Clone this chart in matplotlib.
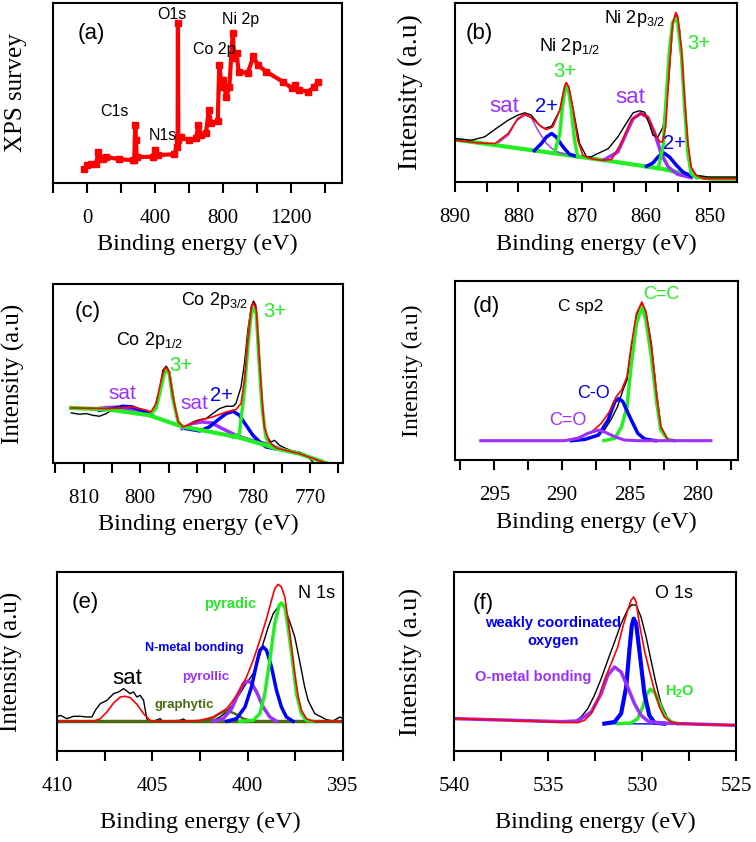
import numpy as np
import matplotlib
matplotlib.use("Agg")
import matplotlib.pyplot as plt
from matplotlib.ticker import MultipleLocator

plt.rcParams['font.family'] = ['Liberation Sans', 'DejaVu Sans']
plt.rcParams['mathtext.default'] = 'regular'

RED = '#ff0000'
GREEN = '#22ee22'
BLUE = '#0000ff'
PURPLE = '#9b30ff'
OLIVE = '#4b6a10'

# ---------------- (a) survey ----------------
a_ev = [-16, 0, 24, 53, 67, 73, 92, 112, 190, 269, 278, 284, 288, 292, 386, 400, 416, 514, 527, 533, 535, 537,
        553, 602, 641, 655, 671, 700, 716, 730, 769, 778, 788, 794, 802, 818, 837, 857, 867, 880, 892, 945,
        979, 1004, 1053, 1151, 1206, 1225, 1249, 1298, 1337, 1357]
a_int = [43, 53, 58, 56, 93, 76, 73, 78, 71, 68, 70, 173, 128, 78, 78, 100, 83, 86, 108, 128, 478, 138,
         136, 128, 133, 173, 143, 148, 218, 178, 186, 353, 308, 288, 308, 258, 286, 448, 373, 388, 333, 328,
         378, 353, 333, 303, 283, 293, 278, 273, 286, 303]

# ---------------- (b) Ni 2p ----------------
b_base_ev = [890.0, 875.9, 865.4, 857.6, 851.8, 849.7, 845.8]
b_base = [127, 90, 62, 40, 15, 10, 10]
b_raw_ev = [890.0, 887.4, 885.3, 883.5, 881.6, 880.1, 879.0, 878.0, 876.7, 875.9, 874.8, 873.5, 872.8, 872.5,
            872.0, 871.2, 870.4, 869.3, 868.6, 867.8, 867.0, 865.9, 864.4, 863.1, 862.0, 861.0, 860.2, 859.4,
            858.9, 858.1, 857.3, 856.5, 855.8, 855.3, 854.7, 854.2, 853.5, 852.9, 852.1, 850.3, 845.8]
b_raw = [130, 125, 135, 160, 185, 200, 207, 200, 170, 160, 167, 215, 283, 297, 275, 195, 115, 75, 75, 83, 90,
         100, 135, 175, 207, 213, 209, 170, 140, 135, 165, 285, 465, 500, 455, 295, 125, 40, 20, 15, 15]
b_fit_ev = [890.0, 886.3, 883.7, 881.6, 880.1, 879.0, 878.0, 876.4, 875.6, 874.6, 873.5, 872.8, 872.5, 872.1,
            871.4, 870.7, 869.9, 868.6, 867.0, 865.4, 863.9, 862.3, 860.8, 859.7, 858.6, 857.8, 857.4, 856.9,
            856.3, 855.8, 855.3, 855.0, 854.4, 853.9, 853.4, 852.9, 852.1, 851.0, 845.8]
b_fit = [125, 117, 115, 145, 190, 203, 193, 165, 157, 165, 215, 280, 297, 285, 215, 125, 80, 70, 65, 67, 115,
         185, 205, 195, 145, 120, 120, 165, 345, 475, 507, 495, 395, 245, 115, 45, 20, 10, 10]
b_g1_ev = [874.3, 873.5, 873.1, 872.7, 872.5, 872.1, 871.7, 871.2, 870.7]
b_g1 = [90, 145, 225, 275, 283, 270, 215, 125, 76]
b_g2_ev = [858.1, 857.3, 856.8, 856.3, 855.8, 855.3, 855.0, 854.4, 853.9, 853.4, 852.9, 852.1]
b_g2 = [40, 105, 255, 395, 477, 490, 475, 375, 215, 85, 25, 13]
b_b1_ev = [877.5, 876.4, 875.6, 874.8, 874.1, 873.0, 872.0, 870.9]
b_b1 = [94, 115, 135, 145, 135, 105, 83, 77]
b_b2_ev = [859.9, 858.9, 858.0, 857.2, 856.3, 855.2, 854.2, 852.9]
b_b2 = [47, 57, 77, 87, 75, 50, 30, 18]
b_p1_ev = [883.2, 881.6, 880.3, 879.0, 878.0, 876.9, 875.6, 874.3, 872.7]
b_p1 = [117, 140, 183, 200, 193, 153, 115, 93, 83]
b_p2_ev = [866.5, 864.4, 863.1, 862.0, 860.8, 859.7, 858.6, 857.6, 856.5, 855.0, 852.9]
b_p2 = [67, 90, 145, 190, 205, 193, 145, 85, 45, 23, 13]

# ---------------- (c) Co 2p ----------------
c_raw_ev = [812.2, 810.7, 809.5, 808.4, 807.2, 806.0, 805.1, 803.6, 802.2, 800.7, 798.9, 798.4, 797.5, 796.6,
            796.0, 795.4, 794.8, 794.2, 793.6, 792.8, 791.9, 790.7, 789.5, 788.4, 787.2, 786.0, 784.8, 783.6,
            783.1, 782.2, 781.6, 781.0, 780.4, 780.0, 779.6, 779.2, 778.8, 778.4, 777.8, 776.9, 776.3, 775.4,
            774.2, 773.1, 771.9, 771.0, 770.1, 769.5]
c_raw = [150, 146, 148, 143, 140, 148, 158, 163, 165, 160, 150, 150, 163, 218, 278, 290, 273, 208, 138, 113,
         108, 123, 130, 133, 148, 163, 170, 170, 178, 228, 298, 398, 468, 485, 473, 398, 268, 148, 83, 63, 68,
         53, 43, 36, 33, 26, 13, 3]
c_base_ev = [812.2, 805.5, 798.4, 792.8, 786.6, 782.5, 777.8, 776.0, 771.9, 767.2]
c_base = [165, 160, 143, 110, 90, 76, 53, 43, 28, 0]
c_fit_ev = [812.2, 805.5, 801.4, 798.9, 798.1, 797.2, 796.3, 795.7, 795.4, 794.9, 794.2, 793.3, 792.4, 791.2,
            789.5, 787.2, 784.8, 783.1, 782.2, 781.6, 781.0, 780.4, 780.0, 779.5, 779.1, 778.6, 778.1, 777.2,
            776.0, 771.9, 767.2]
c_fit = [165, 163, 168, 158, 153, 178, 248, 283, 286, 273, 198, 123, 108, 116, 128, 138, 153, 160, 178, 248,
         368, 463, 480, 458, 348, 218, 108, 63, 45, 28, 0]
c_g1_ev = [798.4, 797.2, 796.3, 795.7, 795.4, 794.9, 794.2, 793.3, 792.5]
c_g1 = [143, 163, 228, 273, 280, 268, 188, 123, 108]
c_g2_ev = [783.6, 782.5, 781.6, 781.0, 780.4, 780.0, 779.5, 779.1, 778.5, 777.8, 776.9, 776.0]
c_g2 = [78, 88, 218, 348, 448, 463, 448, 328, 168, 78, 48, 43]
c_b1_ev = [807.2, 804.8, 803.1, 801.4, 799.6, 797.9]
c_b1 = [158, 163, 170, 168, 156, 143]
c_b2_ev = [791.9, 789.5, 787.8, 786.0, 784.8, 783.6, 782.5, 781.3, 780.1, 778.9, 777.8, 776.3]
c_b2 = [103, 96, 108, 133, 148, 155, 143, 113, 83, 63, 48, 43]
c_p1_ev = [808.4, 806.0, 804.2, 802.5, 800.1]
c_p1 = [161, 166, 167, 163, 153]
c_p2_ev = [792.6, 790.9, 789.1, 787.4, 785.5, 783.1, 780.8, 777.8, 775.4]
c_p2 = [103, 118, 123, 120, 103, 83, 70, 58, 43]

# ---------------- (d) C 1s ----------------
d_raw_ev = [289.1, 288.3, 287.6, 286.9, 286.4, 285.9, 285.5, 285.2, 284.9, 284.5, 284.1, 283.8, 283.4, 283.0,
            282.7, 282.2]
d_raw = [58, 62, 72, 88, 120, 160, 210, 240, 330, 435, 472, 445, 350, 200, 100, 62]
d_fit_ev = [296.0, 289.8, 288.8, 287.8, 287.1, 286.5, 286.0, 285.6, 285.2, 284.9, 284.5, 284.1, 283.8, 283.4,
            283.0, 282.7, 282.2, 281.7, 279.0]
d_fit = [58, 58, 68, 85, 110, 145, 190, 210, 250, 340, 440, 475, 445, 340, 190, 100, 62, 58, 58]
d_cc_ev = [286.9, 286.1, 285.6, 285.2, 284.9, 284.5, 284.1, 283.8, 283.4, 283.0, 282.7, 282.2, 281.7]
d_cc = [58, 65, 100, 160, 280, 410, 460, 420, 310, 170, 90, 62, 58]
d_co_ev = [289.3, 288.3, 287.3, 286.6, 286.1, 285.8, 285.5, 285.0, 284.4, 283.9, 283.1]
d_co = [58, 62, 75, 120, 175, 185, 175, 130, 80, 63, 58]
d_c_o_ev = [296.0, 289.8, 288.8, 288.1, 287.3, 286.9, 286.1, 285.4, 284.4, 279.0]
d_c_o = [58, 58, 65, 80, 90, 85, 70, 60, 58, 58]

# ---------------- (e) N 1s ----------------
e_raw_ev = [410.0, 409.83, 409.48, 409.13, 408.78, 408.43, 408.17, 407.99, 407.73, 407.38, 407.03, 406.77,
            406.51, 406.34, 406.16, 405.99, 405.81, 405.64, 405.46, 405.29, 405.12, 404.94, 404.59, 404.42,
            404.24, 403.55, 403.37, 403.20, 402.50, 401.80, 401.45, 401.10, 400.76, 400.41, 400.14, 399.97,
            399.71, 399.45, 399.19, 398.92, 398.66, 398.40, 398.23, 398.05, 397.88, 397.70, 397.53, 397.35,
            397.18, 397.01, 396.83, 396.66, 396.48, 396.31, 396.13, 395.87, 395.52, 395.17, 395.00]
e_raw = [102, 107, 97, 104, 104, 102, 102, 122, 142, 152, 172, 177, 187, 180, 172, 177, 162, 167, 152, 97,
         87, 89, 97, 87, 89, 92, 96, 89, 90, 92, 102, 117, 142, 172, 197, 210, 232, 272, 322, 372, 412, 432,
         444, 427, 402, 372, 342, 292, 242, 192, 152, 132, 112, 107, 102, 94, 90, 102, 97]
e_fit_ev = [410.0, 408.08, 407.73, 407.38, 407.03, 406.68, 406.42, 406.16, 405.81, 405.46, 405.12, 404.94,
            403.20, 402.50, 401.80, 401.10, 400.76, 400.41, 400.06, 399.71, 399.36, 399.01, 398.75, 398.58,
            398.40, 398.23, 398.05, 397.88, 397.70, 397.53, 397.35, 397.18, 396.92, 396.57, 395.0]
e_fit = [89, 89, 97, 117, 144, 162, 164, 160, 140, 112, 92, 89, 89, 92, 102, 127, 152, 182, 222, 272, 332,
         397, 452, 487, 500, 492, 462, 392, 312, 232, 162, 122, 97, 89, 89]
e_base_ev = [410.0, 395.0]
e_base = [89, 89]
e_pyr_ev = [400.41, 399.71, 399.36, 399.10, 398.84, 398.58, 398.35, 398.23, 398.05, 397.88, 397.65, 397.44,
            397.18, 396.92, 396.57]
e_pyr = [89, 92, 112, 172, 272, 382, 437, 444, 432, 372, 272, 172, 112, 92, 89]
e_nm_ev = [401.10, 400.58, 400.14, 399.80, 399.53, 399.36, 399.19, 399.01, 398.75, 398.49, 398.23, 397.97,
           397.62]
e_nm = [89, 97, 132, 192, 262, 302, 312, 302, 252, 182, 132, 102, 89]
e_pyl_ev = [401.80, 401.28, 400.84, 400.49, 400.23, 400.00, 399.80, 399.53, 399.19, 398.84, 398.49]
e_pyl = [89, 97, 127, 172, 202, 210, 204, 177, 132, 102, 89]
e_gr_ev = [402.50, 401.98, 401.54, 401.10, 400.67, 400.23, 399.71]
e_gr = [89, 94, 110, 122, 112, 97, 89]

# ---------------- (f) O 1s ----------------
f_raw_ev = [540.0, 534.30, 533.59, 533.24, 532.88, 532.53, 532.17, 531.82, 531.46, 531.11, 530.76, 530.54,
            530.31, 530.05, 529.78, 529.52, 529.25, 528.99, 528.63, 528.28, 525.0]
f_raw = [97, 87, 88, 102, 127, 167, 217, 272, 327, 382, 424, 439, 437, 402, 342, 272, 202, 142, 97, 84, 77]
f_fit_ev = [540.0, 536.95, 534.30, 533.41, 533.06, 532.70, 532.35, 532.00, 531.64, 531.29, 531.02, 530.76,
            530.58, 530.44, 530.31, 530.14, 529.87, 529.61, 529.34, 529.07, 528.81, 528.45, 528.10, 525.0]
f_fit = [97, 92, 86, 85, 92, 112, 152, 212, 262, 312, 372, 422, 452, 462, 447, 382, 302, 242, 182, 132, 102,
         87, 82, 77]
f_weak_ev = [532.00, 531.46, 531.11, 530.84, 530.67, 530.54, 530.44, 530.31, 530.14, 529.87, 529.61, 529.34,
             528.81]
f_weak = [82, 87, 112, 192, 302, 377, 397, 382, 302, 172, 107, 85, 82]
f_om_ev = [540.0, 534.30, 533.41, 532.70, 532.17, 531.82, 531.46, 531.11, 530.76, 530.40, 530.05, 529.69,
           529.16, 525.0]
f_om = [97, 88, 90, 117, 172, 227, 252, 237, 192, 142, 107, 90, 84, 77]
f_h2o_ev = [531.29, 530.58, 530.23, 529.96, 529.73, 529.55, 529.34, 529.07, 528.81, 528.45, 528.10]
f_h2o = [82, 84, 97, 132, 172, 185, 177, 142, 107, 87, 82]
f_base_ev = [531.8, 526.8]
f_base = [82, 80]


fig = plt.figure(figsize=(7.56, 8.42), dpi=100)


def style(ax, xlim, ylim, major, minor, ylabel, ylab_x, xlab_y, ysize=18):
    ax.set_xlim(*xlim)
    ax.set_ylim(*ylim)
    ax.set_yticks([])
    ax.xaxis.set_major_locator(MultipleLocator(major))
    ax.xaxis.set_minor_locator(MultipleLocator(minor))
    ax.tick_params(axis='x', which='both', direction='out', length=7, width=1.5, pad=12,
                   labelsize=15, top=False)
    for lab in ax.get_xticklabels():
        lab.set_family('Liberation Serif')
    for s in ax.spines.values():
        s.set_linewidth(1.5)
    ax.set_xlabel("Binding energy (eV)", family='Liberation Serif', fontsize=17.5)
    ax.set_ylabel(ylabel, family='Liberation Serif', fontsize=ysize)
    ax.yaxis.set_label_coords(ylab_x, 0.5)
    ax.xaxis.set_label_coords(0.5, xlab_y)


# (a)
ax = fig.add_axes([0.0701, 0.7827, 0.3823, 0.2138])
ax.plot(a_ev, a_int, '-s', color=RED, lw=3, ms=4)
style(ax, (-200, 1500), (0, 538), 400, 200, "XPS survey", -0.09, -0.283)
ax.text(24, 448, "(a)", fontsize=16, ha='center', va='center')
ax.text(161, 213, "C1s", fontsize=11.5, ha='center', va='center')
ax.text(445, 143, "N1s", fontsize=11.5, ha='center', va='center')
ax.text(500, 503, "O1s", fontsize=11.5, ha='center', va='center')
ax.text(749, 398, "Co 2p", fontsize=11.5, ha='center', va='center')
ax.text(906, 490, "Ni 2p", fontsize=11.5, ha='center', va='center')

# (b)
ax = fig.add_axes([0.6015, 0.7838, 0.3734, 0.2126])
ax.plot(b_base_ev, b_base, color=GREEN, lw=3)
ax.plot(b_p1_ev, b_p1, color=PURPLE, lw=1)
ax.plot(b_p2_ev, b_p2, color=PURPLE, lw=2.5)
ax.plot(b_b1_ev, b_b1, color=BLUE, lw=2.5)
ax.plot(b_b2_ev, b_b2, color=BLUE, lw=2.5)
ax.plot(b_raw_ev, b_raw, color='black', lw=1)
ax.plot(b_g1_ev, b_g1, color=GREEN, lw=2.5)
ax.plot(b_g2_ev, b_g2, color=GREEN, lw=2.5)
ax.plot(b_fit_ev, b_fit, color=RED, lw=1.2)
style(ax, (890, 845.7), (0, 535), 10, 5, "Intensity (a.u)", -0.112, -0.29, ysize=20)
ax.text(886.1, 445, "(b)", fontsize=16, ha='center', va='center')
ax.text(872.0, 405, "Ni 2p$_{1/2}$", fontsize=13, ha='center', va='center')
ax.text(872.7, 330, "3+", fontsize=14.5, color=GREEN, ha='center', va='center')
ax.text(882.2, 227, "sat", fontsize=16, color=PURPLE, ha='center', va='center')
ax.text(875.6, 225, "2+", fontsize=14.5, color=BLUE, ha='center', va='center')
ax.text(862.5, 253, "sat", fontsize=16, color=PURPLE, ha='center', va='center')
ax.text(855.5, 115, "2+", fontsize=14.5, color=BLUE, ha='center', va='center')
ax.text(861.8, 490, "Ni 2p$_{3/2}$", fontsize=13, ha='center', va='center')
ax.text(851.7, 415, "3+", fontsize=14.5, color=GREEN, ha='center', va='center')

# (c)
ax = fig.add_axes([0.0701, 0.4501, 0.3836, 0.2126])
ax.plot(c_raw_ev, c_raw, color='black', lw=1)
ax.plot(c_p1_ev, c_p1, color=PURPLE, lw=2.5)
ax.plot(c_p2_ev, c_p2, color=PURPLE, lw=2.5)
ax.plot(c_b1_ev, c_b1, color=BLUE, lw=2.5)
ax.plot(c_b2_ev, c_b2, color=BLUE, lw=2.5)
ax.plot(c_base_ev, c_base, color=GREEN, lw=3)
ax.plot(c_g1_ev, c_g1, color=GREEN, lw=2.5)
ax.plot(c_g2_ev, c_g2, color=GREEN, lw=2.5)
ax.plot(c_fit_ev, c_fit, color=RED, lw=1.2)
style(ax, (815.4, 764.2), (0, 536), 10, 5, "Intensity (a.u)", -0.097, -0.285)
ax.text(809.2, 453, "(c)", fontsize=16, ha='center', va='center')
ax.text(786.9, 486, "Co 2p$_{3/2}$", fontsize=13, ha='center', va='center')
ax.text(776.3, 453, "3+", fontsize=14.5, color=GREEN, ha='center', va='center')
ax.text(798.4, 368, "Co 2p$_{1/2}$", fontsize=13, ha='center', va='center')
ax.text(792.8, 293, "3+", fontsize=14.5, color=GREEN, ha='center', va='center')
ax.text(803.1, 208, "sat", fontsize=15, color=PURPLE, ha='center', va='center')
ax.text(790.4, 178, "sat", fontsize=15, color=PURPLE, ha='center', va='center')
ax.text(785.7, 203, "2+", fontsize=14.5, color=BLUE, ha='center', va='center')

# (d)
ax = fig.add_axes([0.6019, 0.4537, 0.3743, 0.2126])
ax.plot(d_raw_ev, d_raw, color='black', lw=1)
ax.plot(d_cc_ev, d_cc, color=GREEN, lw=2.5)
ax.plot(d_co_ev, d_co, color=BLUE, lw=2.5)
ax.plot(d_fit_ev, d_fit, color=RED, lw=1.2)
ax.plot(d_c_o_ev, d_c_o, color=PURPLE, lw=2.2)
style(ax, (297.9, 277.0), (0, 538), 5, 2.5, "Intensity (a.u)", -0.113, -0.292, ysize=17)
ax.text(295.6, 460, "(d)", fontsize=16, ha='center', va='center')
ax.text(288.6, 460, "C sp2", fontsize=12.5, ha='center', va='center')
ax.text(282.7, 498, "C=C", fontsize=13, color=GREEN, ha='center', va='center')
ax.text(287.7, 200, "C-O", fontsize=13, color=BLUE, ha='center', va='center')
ax.text(289.6, 120, "C=O", fontsize=13, color=PURPLE, ha='center', va='center')

# (e)
ax = fig.add_axes([0.0754, 0.1081, 0.3783, 0.2126])
ax.plot(e_raw_ev, e_raw, color='black', lw=1)
ax.plot(e_base_ev, e_base, color=OLIVE, lw=2.5)
ax.plot(e_gr_ev, e_gr, color=OLIVE, lw=1.8)
ax.plot(e_pyl_ev, e_pyl, color=PURPLE, lw=2.5)
ax.plot(e_nm_ev, e_nm, color=BLUE, lw=2.5)
ax.plot(e_pyr_ev, e_pyr, color=GREEN, lw=2.5)
ax.plot(e_fit_ev, e_fit, color=RED, lw=1.2)
style(ax, (410, 395), (0, 537), 5, 2.5, "Intensity (a.u)", -0.119, -0.341)
ax.text(408.5, 444, "(e)", fontsize=16, ha='center', va='center')
ax.text(396.4, 472, "N 1s", fontsize=13, ha='center', va='center')
ax.text(400.9, 442, "pyradic", fontsize=10.5, color=GREEN, weight='bold', ha='center', va='center')
ax.text(402.8, 310, "N-metal bonding", fontsize=9, color=BLUE, weight='bold', ha='center', va='center')
ax.text(402.2, 222, "pyrollic", fontsize=9.5, color=PURPLE, weight='bold', ha='center', va='center')
ax.text(403.3, 137, "graphytic", fontsize=9.5, color=OLIVE, weight='bold', ha='center', va='center')
ax.text(406.3, 217, "sat", fontsize=16, ha='center', va='center')

# (f)
ax = fig.add_axes([0.6005, 0.1081, 0.3730, 0.2126])
ax.plot(f_raw_ev, f_raw, color='black', lw=1)
ax.plot(f_base_ev, f_base, color=BLUE, lw=1)
ax.plot(f_h2o_ev, f_h2o, color=GREEN, lw=2.5)
ax.plot(f_weak_ev, f_weak, color=BLUE, lw=3)
ax.plot(f_om_ev, f_om, color=PURPLE, lw=2.5)
ax.plot(f_fit_ev, f_fit, color=RED, lw=1.2)
style(ax, (540, 525), (0, 537), 5, 2.5, "Intensity (a.u)", -0.110, -0.341, ysize=19)
ax.text(538.46, 442, "(f)", fontsize=16, ha='center', va='center')
ax.text(528.28, 472, "O 1s", fontsize=13, ha='center', va='center')
ax.text(534.74, 384, "weakly coordinated", fontsize=10.5, color=BLUE, weight='bold', ha='center', va='center')
ax.text(534.74, 329, "oxygen", fontsize=10.5, color=BLUE, weight='bold', ha='center', va='center')
ax.text(535.80, 222, "O-metal bonding", fontsize=10.5, color=PURPLE, weight='bold', ha='center', va='center')
ax.text(528.01, 177, "H$_2$O", fontsize=10.5, color=GREEN, weight='bold', ha='center', va='center')

fig.savefig("out.png", dpi=100)
